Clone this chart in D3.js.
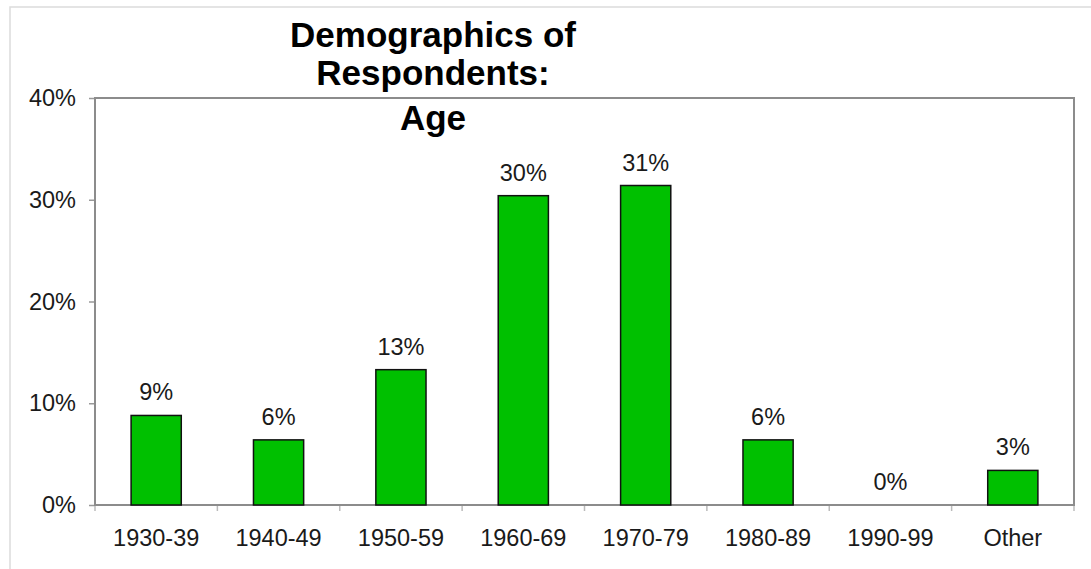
<!DOCTYPE html>
<html>
<head>
<meta charset="utf-8">
<script src="https://cdn.jsdelivr.net/npm/d3@7"></script>
<style>
  html, body { margin: 0; padding: 0; background: #fff; }
  svg { display: block; font-family: "Liberation Sans", Arial, sans-serif; }
</style>
</head>
<body>
<svg id="chart" width="1091" height="569"></svg>
<script>
// Birth-decade groups and the share of respondents in each (percent)
const categories = ["1930-39", "1940-49", "1950-59", "1960-69", "1970-79", "1980-89", "1990-99", "Other"];
const shares = [8.8, 6.4, 13.3, 30.4, 31.4, 6.4, 0, 3.4];
const yTicks = [0, 10, 20, 30, 40];
const titleLines = ["Demographics of", "Respondents:", "Age"];
const titleBaselines = [47, 85, 130];

const width = 1091, height = 569;
const margin = { top: 98, right: 17, bottom: 64, left: 95 };
const innerW = width - margin.left - margin.right;
const innerH = height - margin.top - margin.bottom;

const svg = d3.select("#chart");

// light outer frame
svg.append("path")
  .attr("d", `M10,${height} L10,7 L${width},7`)
  .attr("fill", "none")
  .attr("stroke", "#dcdcdc")
  .attr("stroke-width", 1.5);

const g = svg.append("g").attr("transform", `translate(${margin.left},${margin.top})`);

const x = d3.scaleBand().domain(categories).range([0, innerW]).paddingInner(0.59).paddingOuter(0.295);
const xb = d3.scaleBand().domain(categories).range([0, innerW]);
const y = d3.scaleLinear().domain([0, 40]).range([innerH, 0]);

// y axis ticks and labels
const yAxis = d3.axisLeft(y).tickValues(yTicks).tickSize(6).tickPadding(13).tickFormat(d => d + "%");
const ya = g.append("g").call(yAxis);
ya.select(".domain").remove();
ya.selectAll(".tick line").attr("stroke", "#999").attr("stroke-width", 1.5);
ya.selectAll(".tick text").attr("font-size", 23.5).attr("fill", "#1a1a1a");

// x axis: ticks at category boundaries, labels centred under bars
const boundaries = categories.map(c => xb(c)).concat([innerW]);
g.append("g").selectAll("line.xt").data(boundaries).join("line")
  .attr("class", "xt")
  .attr("x1", d => d).attr("x2", d => d)
  .attr("y1", innerH).attr("y2", innerH + 6)
  .attr("stroke", "#bbb").attr("stroke-width", 1.5);

g.append("g").selectAll("text.xl").data(categories).join("text")
  .attr("class", "xl")
  .attr("x", d => xb(d) + xb.bandwidth() / 2)
  .attr("y", innerH + 41)
  .attr("text-anchor", "middle")
  .attr("font-size", 23.5)
  .attr("fill", "#1a1a1a")
  .text(d => d);

// plot area frame
g.append("rect")
  .attr("x", 0).attr("y", 0)
  .attr("width", innerW).attr("height", innerH)
  .attr("fill", "none")
  .attr("stroke", "#8c8c8c")
  .attr("stroke-width", 2);

const data = categories.map((c, i) => ({ c, v: shares[i] }));

// bars
g.append("g").selectAll("rect.bar").data(data.filter(d => d.v > 0)).join("rect")
  .attr("class", "bar")
  .attr("x", d => x(d.c))
  .attr("y", d => y(d.v))
  .attr("width", x.bandwidth())
  .attr("height", d => y(0) - y(d.v))
  .attr("fill", "#00c000")
  .attr("stroke", "#111")
  .attr("stroke-width", 1.5);

// value labels
const fmt = d => Math.round(d) + "%";
g.append("g").selectAll("text.val").data(data).join("text")
  .attr("class", "val")
  .attr("x", d => x(d.c) + x.bandwidth() / 2)
  .attr("y", d => y(d.v) - 15)
  .attr("text-anchor", "middle")
  .attr("font-size", 23.5)
  .attr("fill", "#1a1a1a")
  .text(d => fmt(d.v));

// title
svg.append("g").selectAll("text.title").data(titleLines).join("text")
  .attr("class", "title")
  .attr("x", 433)
  .attr("y", (d, i) => titleBaselines[i])
  .attr("text-anchor", "middle")
  .attr("font-size", 35)
  .attr("font-weight", "bold")
  .attr("fill", "#000")
  .text(d => d);
</script>
</body>
</html>
